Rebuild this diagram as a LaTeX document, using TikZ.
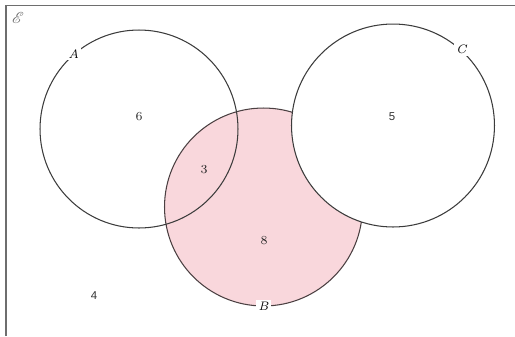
\documentclass[tikz,border=0pt]{standalone}
\usepackage{fontspec}
\usepackage{mathrsfs}
\newfontfamily\numsans{Liberation Sans}
\definecolor{vpink}{RGB}{249,215,220}
\definecolor{vline}{RGB}{60,60,60}
\definecolor{vframe}{RGB}{110,110,110}
\tikzset{
  venn/.style={circle, draw=vline, line width=0.6pt, minimum size=3.96cm, inner sep=0pt},
  setlab/.style={fill=white, inner sep=1.2pt, font=\fontsize{7}{8}\selectfont\itshape},
  num/.style={font=\fontsize{7}{8}\selectfont, text=black!85},
  nums/.style={font=\fontsize{6.5}{8}\selectfont\numsans, text=black!80},
  frameline/.style={draw=vframe, line width=1.1pt}
}
\begin{document}
\begin{tikzpicture}[x=0.02cm, y=-0.02cm]
\useasboundingbox (0,0) rectangle (515,336);
\coordinate (f1) at (6,336);
\coordinate (f2) at (6,5.5);
\coordinate (f3) at (515,5.5);
\draw[frameline] (f1) -- (f2) -- (f3);
\node[venn, fill=vpink, draw=black!70!vpink] (B) at (263.5,207) {};
\node[venn] (A) at (139,129) {};
\node[venn, fill=white, minimum size=4.06cm] (C) at (393,125.5) {};
\node[setlab] (la) at (A.131) {A};
\node[setlab] (lc) at (C.48) {C};
\node[setlab] (lb) at (B.270) {B};
\node[text=black!60, font=\fontsize{9}{10}\selectfont] (E) at (18,18) {$\mathscr{E}$};
\node[num] (n6) at (139,117) {6};
\node[num] (n3) at (204,170) {3};
\node[nums] (n5) at (392,117) {5};
\node[num] (n8) at (264,241) {8};
\node[nums] (n4) at (94,296) {4};
\end{tikzpicture}
\end{document}
